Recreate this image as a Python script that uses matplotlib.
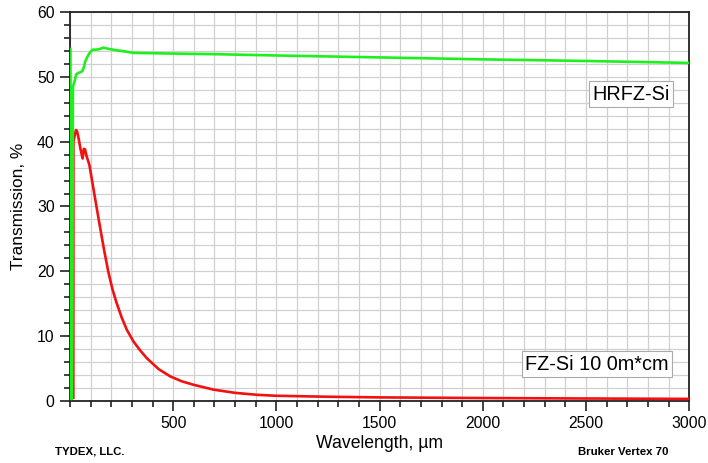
import numpy as np
import matplotlib
matplotlib.use('Agg')
import matplotlib.pyplot as plt
from matplotlib.ticker import MultipleLocator

plt.rcParams['font.family'] = ['Liberation Sans', 'DejaVu Sans']

# HRFZ-Si transmission (wavelength um, %)
hrfz_wl = [2, 5, 9, 11, 14, 24, 30, 40, 50, 60, 68, 73, 80, 89, 100, 110, 129, 145,
           161, 190, 226, 270, 307, 400, 485, 700, 1000, 1500, 2000, 2500, 3000]
hrfz_t = [54.3, 0.3, 0.3, 11.0, 48.5, 49.5, 50.4, 50.6, 50.7, 50.9, 51.6, 52.3, 52.8, 53.4,
          53.9, 54.2, 54.2, 54.3, 54.5, 54.3, 54.1, 53.9, 53.7, 53.65, 53.6, 53.5, 53.3,
          53.0, 52.7, 52.45, 52.15]

# FZ-Si 10 Ohm*cm transmission
fz_wl = [16, 16.5, 25, 29, 35, 40, 50, 61, 67, 73, 80, 94, 120, 145, 165, 185, 205,
         225, 250, 275, 307, 340, 372, 430, 485, 540, 598, 695, 800, 905, 1000, 1250,
         1500, 2000, 2500, 3000]
fz_t = [0.5, 40.0, 41.3, 41.8, 41.5, 40.8, 39.0, 37.4, 38.9, 38.8, 37.8, 36.4, 31.5,
        26.9, 23.3, 20.0, 17.3, 15.2, 12.9, 11.0, 9.2, 7.8, 6.6, 4.9, 3.8, 3.05, 2.5,
        1.75, 1.25, 0.95, 0.8, 0.65, 0.55, 0.45, 0.38, 0.32]

fig = plt.figure(figsize=(7.08, 4.63), dpi=100)
ax = fig.add_axes([0.0989, 0.134, 0.8745, 0.840])

ax.plot(fz_wl, fz_t, color='#f21010', lw=1.9, zorder=3)
ax.plot(hrfz_wl, hrfz_t, color='#1ef01e', lw=1.9, zorder=4)

ax.set_xlim(0, 3000)
ax.set_ylim(0, 60)
ax.xaxis.set_major_locator(MultipleLocator(500))
ax.xaxis.set_minor_locator(MultipleLocator(100))
ax.yaxis.set_major_locator(MultipleLocator(10))
ax.yaxis.set_minor_locator(MultipleLocator(2))
ax.set_xticks([500, 1000, 1500, 2000, 2500, 3000])
ax.grid(which='both', color='#d0d0d0', lw=0.9, zorder=0)
ax.set_axisbelow(True)

ax.tick_params(which='major', direction='out', length=7, width=1.3, labelsize=11.3,
               color='#333333', pad=4)
ax.tick_params(which='minor', direction='out', length=4, width=1.3, color='#333333')
for s in ax.spines.values():
    s.set_color('#222222')
    s.set_linewidth(1.3)

ax.set_xlabel('Wavelength, \u00b5m', fontsize=12.7, labelpad=3)
ax.set_ylabel('Transmission, %', fontsize=12.4, labelpad=8)

box = dict(boxstyle='square,pad=0.18', fc='white', ec='#aaaaaa', lw=0.8)
ax.text(0.906, 0.789, 'HRFZ-Si', transform=ax.transAxes, fontsize=14.3,
        ha='center', va='center', bbox=box, zorder=5)
ax.text(0.851, 0.095, 'FZ-Si 10 0m*cm', transform=ax.transAxes, fontsize=14.3,
        ha='center', va='center', bbox=box, zorder=5)

fig.text(90 / 708, 1 - 452 / 463, 'TYDEX, LLC.', fontsize=8.2, fontweight='bold',
         ha='center', va='center')
fig.text(623 / 708, 1 - 452 / 463, 'Bruker Vertex 70', fontsize=8.2, fontweight='bold',
         ha='center', va='center')

fig.savefig('out.png', dpi=100)
